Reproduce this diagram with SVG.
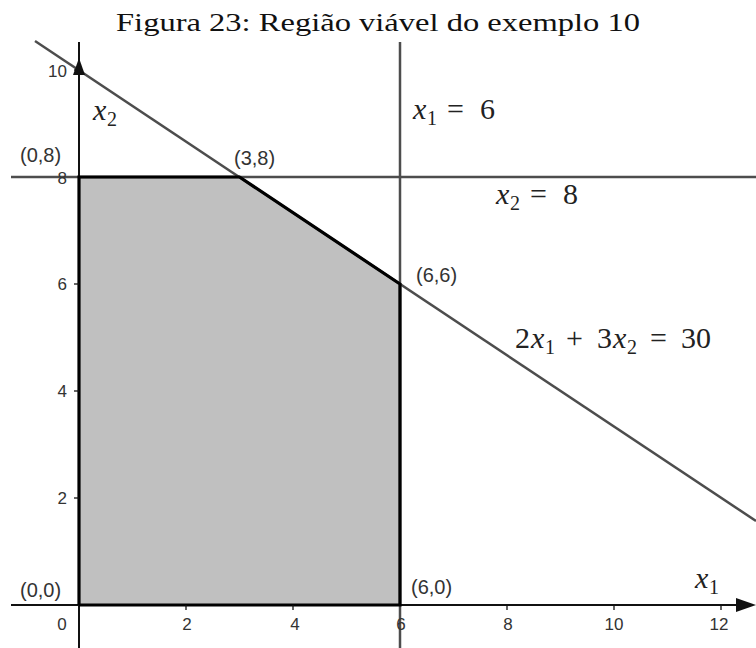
<svg xmlns="http://www.w3.org/2000/svg" width="756" height="648" viewBox="0 0 756 648">
<style>
.title{font-family:"Liberation Serif","DejaVu Serif",serif;font-size:26px;fill:#111}
.pt{font-family:"Liberation Sans",Arial,sans-serif;font-size:20px;fill:#333}
.tk{font-family:"Liberation Sans",Arial,sans-serif;font-size:17px;fill:#333}
.m{font-family:"Liberation Serif","DejaVu Serif",serif;font-size:30px;fill:#222}
.mi{font-style:italic}
.sub{font-size:20px}
.gl{stroke:#4d4d4d;stroke-width:2.5;fill:none}
.ax{stroke:#111;stroke-width:2;fill:none}
</style>
<rect width="756" height="648" fill="#fff"/>
<text class="title" x="116" y="31" textLength="524" lengthAdjust="spacingAndGlyphs">Figura 23: Região viável do exemplo 10</text>

<g id="region">
<polygon points="79,605 79,177 239.5,177 400,284 400,605" fill="#c0c0c0" stroke="none"/>
</g>

<g id="connectors">
<line class="gl" x1="11" y1="177" x2="756" y2="177"/>
<line class="gl" x1="400" y1="42" x2="400" y2="648"/>
<line class="gl" x1="35" y1="41" x2="756" y2="521"/>
<line class="ax" x1="11" y1="605" x2="740" y2="605"/>
<polygon points="756,605 736,598 736,612" fill="#111"/>
<line class="ax" x1="79" y1="42" x2="79" y2="648"/>
<polygon points="79,58 73,75 85,75" fill="#111"/>
<polyline points="79,605 79,177 239.5,177 400,284 400,605 79,605" fill="none" stroke="#000" stroke-width="3.2"/>
<g stroke="#111" stroke-width="1.3">
<line x1="186" y1="605" x2="186" y2="610"/>
<line x1="293" y1="605" x2="293" y2="610"/>
<line x1="507" y1="605" x2="507" y2="610"/>
<line x1="614" y1="605" x2="614" y2="610"/>
<line x1="721" y1="605" x2="721" y2="610"/>
<line x1="74" y1="498" x2="79" y2="498"/>
<line x1="74" y1="391" x2="79" y2="391"/>
<line x1="74" y1="284" x2="79" y2="284"/>
<line x1="74" y1="70" x2="79" y2="70"/>
</g>
</g>

<g id="ticklabels">
<text class="tk" x="62" y="630" text-anchor="middle">0</text>
<text class="tk" x="187" y="630" text-anchor="middle">2</text>
<text class="tk" x="295" y="630" text-anchor="middle">4</text>
<text class="tk" x="401" y="630" text-anchor="middle">6</text>
<text class="tk" x="508" y="630" text-anchor="middle">8</text>
<text class="tk" x="614" y="630" text-anchor="middle">10</text>
<text class="tk" x="719" y="630" text-anchor="middle">12</text>
<text class="tk" x="67" y="504" text-anchor="end">2</text>
<text class="tk" x="67" y="397" text-anchor="end">4</text>
<text class="tk" x="67" y="290" text-anchor="end">6</text>
<text class="tk" x="67" y="184" text-anchor="end">8</text>
<text class="tk" x="67" y="77" text-anchor="end">10</text>
</g>

<g id="p08"><text class="pt" x="20" y="162">(0,8)</text></g>
<g id="p38"><text class="pt" x="234" y="165">(3,8)</text></g>
<g id="p66"><text class="pt" x="416" y="282">(6,6)</text></g>
<g id="p60"><text class="pt" x="411" y="594">(6,0)</text></g>
<g id="p00"><text class="pt" x="20" y="597">(0,0)</text></g>

<g id="lbl-x2axis"><text class="m"><tspan class="mi" x="93" y="120">x</tspan><tspan class="sub" x="107" y="126">2</tspan></text></g>
<g id="lbl-x1axis"><text class="m"><tspan class="mi" x="695" y="588">x</tspan><tspan class="sub" x="709" y="594">1</tspan></text></g>
<g id="lbl-x1eq6"><text class="m"><tspan class="mi" x="413" y="119">x</tspan><tspan class="sub" x="427" y="125">1</tspan><tspan x="447" y="119">=</tspan><tspan x="480" y="119">6</tspan></text></g>
<g id="lbl-x2eq8"><text class="m"><tspan class="mi" x="496" y="204">x</tspan><tspan class="sub" x="510" y="210">2</tspan><tspan x="530" y="204">=</tspan><tspan x="563" y="204">8</tspan></text></g>
<g id="lbl-constraint"><text class="m"><tspan x="515" y="348">2</tspan><tspan class="mi" x="531" y="348">x</tspan><tspan class="sub" x="545" y="354">1</tspan><tspan x="566" y="348">+</tspan><tspan x="597" y="348">3</tspan><tspan class="mi" x="613" y="348">x</tspan><tspan class="sub" x="627" y="354">2</tspan><tspan x="650" y="348">=</tspan><tspan x="681" y="348">30</tspan></text></g>
</svg>
